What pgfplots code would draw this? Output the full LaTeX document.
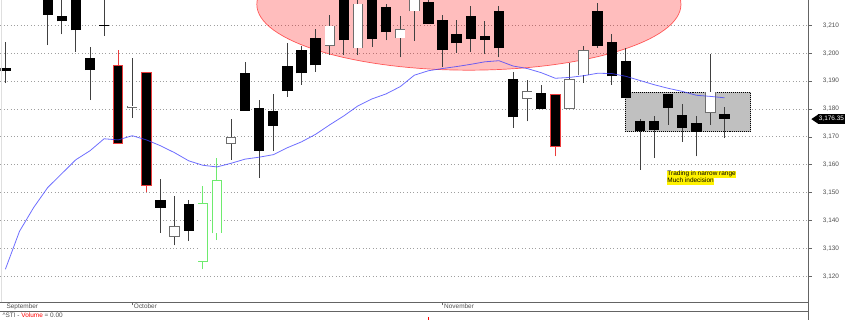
\documentclass[border=0pt]{standalone}
\usepackage{pgfplots}
\pgfplotsset{compat=1.18}
\usepackage{pgfplotstable}
\usepackage{fontspec}
\setmainfont{Liberation Sans}
\definecolor{wick}{RGB}{64,64,64}
\definecolor{outl}{RGB}{110,110,110}
\definecolor{redc}{RGB}{235,60,60}
\definecolor{grnc}{RGB}{110,235,110}
\definecolor{macol}{RGB}{60,60,255}
\definecolor{silver}{RGB}{192,192,192}
\definecolor{axcol}{RGB}{100,100,100}
\definecolor{lbl}{RGB}{80,80,80}

% black candles: index, open, high, low, close
\pgfplotstableread{
i o h l c
0 3194.6 3203.9 3189.3 3193.6
3 3221.0 3223.0 3202.9 3213.8
4 3213.5 3220.0 3206.7 3211.4
5 3221.0 3222.0 3200.5 3208.2
6 3198.2 3202.3 3183.2 3193.9
7 3210.15 3222.0 3206.2 3209.85
11 3147.3 3154.9 3135.6 3144.5
13 3146.0 3147.5 3132.6 3136.4
17 3193.0 3196.9 3179.4 3179.4
18 3180.5 3183.2 3155.3 3165.0
19 3179.3 3185.3 3165.0 3173.9
20 3195.5 3203.5 3184.4 3186.4
21 3201.1 3202.5 3188.6 3192.8
22 3205.6 3208.5 3193.3 3195.6
24 3221.0 3223.0 3199.3 3204.6
26 3221.0 3223.0 3202.3 3205.0
27 3216.5 3217.7 3204.6 3207.5
30 3218.3 3220.0 3210.4 3210.4
31 3211.8 3213.6 3195.1 3201.1
32 3206.9 3212.0 3200.1 3203.5
33 3213.5 3216.8 3200.5 3205.1
34 3206.2 3211.5 3199.6 3204.9
35 3215.0 3216.9 3198.5 3201.7
36 3190.7 3193.3 3173.3 3177.0
38 3185.8 3188.6 3180.0 3180.0
42 3215.0 3218.1 3202.0 3202.6
43 3203.9 3206.7 3188.6 3191.7
44 3197.1 3201.7 3183.8 3183.8
45 3175.5 3176.4 3158.2 3172.1
46 3175.8 3177.5 3162.4 3172.5
47 3185.4 3185.4 3174.3 3180.5
48 3177.9 3181.8 3168.3 3173.3
49 3174.9 3177.5 3163.0 3171.9
51 3178.1 3180.8 3169.5 3176.35
}\blk

% white candles
\pgfplotstableread{
i o h l c
9 3180.3 3198.1 3176.7 3181.2
12 3134.2 3148.7 3131.1 3138.0
16 3167.6 3176.4 3161.8 3169.8
23 3202.6 3213.6 3199.3 3209.9
25 3201.7 3222.0 3199.3 3217.8
28 3205.3 3213.2 3198.5 3208.5
29 3215.0 3222.0 3204.4 3221.5
37 3183.7 3190.4 3175.5 3186.5
40 3180.0 3196.3 3180.0 3190.8
41 3192.0 3202.5 3189.4 3201.1
50 3178.5 3199.6 3174.3 3186.2
}\wht

% black candles with red outline (wicks)
\pgfplotstableread{
i o h l c
8 3195.5 3201.3 3167.5 3167.5
10 3193.0 3193.0 3150.1 3152.5
39 3185.1 3185.1 3163.0 3166.5
}\redk

% white candles with green outline
\pgfplotstableread{
i o h l c
14 3125.1 3152.3 3122.5 3146.3
15 3135.4 3162.4 3133.0 3154.5
}\grnw

% moving average
\pgfplotstableread{
i v
0 3122.5
1 3136.1
2 3144.6
3 3151.8
4 3156.8
5 3161.8
6 3165.0
7 3169.3
8 3168.9
9 3170.4
10 3168.9
11 3166.8
12 3164.3
13 3161.4
14 3159.8
15 3159.2
16 3160.5
17 3162.0
18 3162.7
19 3163.6
20 3166.1
21 3168.2
22 3170.9
23 3174.3
24 3177.5
25 3181.1
26 3183.6
27 3185.4
28 3188.0
29 3192.1
30 3193.7
31 3194.5
32 3195.2
33 3196.0
34 3196.9
35 3197.3
36 3195.4
37 3194.5
38 3193.0
39 3191.0
40 3191.3
41 3191.9
42 3192.8
43 3192.7
44 3191.7
45 3190.2
46 3188.7
47 3187.4
48 3186.3
49 3184.9
50 3184.5
51 3184.0
}\ma

\pgfplotsset{
  wickstyle/.style={draw=none, mark=none, forget plot,
    error bars/.cd, y dir=plus, y explicit, error mark=none,
    error bar style={line width=0.9bp, draw=#1}},
  bodystyle/.style 2 args={draw=none, mark=none, forget plot,
    error bars/.cd, y dir=plus, y explicit, error mark=none,
    error bar style={line width=#2, draw=#1}},
  redbody/.style={fill=black, draw=redc, line width=0.9bp, mark=none, forget plot},
}
\newcommand{\sm}{\fontsize{6.5}{7.5}\selectfont}

\begin{document}
\begin{tikzpicture}
\begin{axis}[
  name=ax, at={(0,0)}, anchor=south west,
  width=811.7bp, height=303.3bp, scale only axis,
  xmin=-0.353, xmax=56.97, ymin=3110.6, ymax=3218.93,
  axis x line*=bottom, axis y line*=right,
  axis line style={-, draw=axcol, line width=0.8bp},
  xtick={9,31}, xticklabels={October,November},
  ytick={3120,3130,...,3210},
  tick align=outside, major tick length=3bp,
  tick style={draw=axcol, line width=0.6bp},
  ymajorgrids,
  grid style={draw=gray!75, line width=0.7bp, dash pattern=on 0.8bp off 2.6bp},
  scaled y ticks=false,
  /pgf/number format/assume math mode=true,
  /pgf/number format/1000 sep={,},
  ticklabel style={font=\sm, text=lbl},
  yticklabel style={anchor=west, inner sep=0pt, xshift=11bp},
  xticklabel style={anchor=north west, inner sep=0pt, xshift=1.5bp, yshift=2.3bp},
]
% highlighted zone (ellipse)
\fill[red, fill opacity=0.26] (axis cs:32.87,3217.5) ellipse [x radius=15.04, y radius=23.6];
\draw[red, draw opacity=0.6, line width=0.7bp] (axis cs:32.87,3217.5) ellipse [x radius=15.04, y radius=23.6];
% narrow range box
\draw[black, line width=1bp, dash pattern=on 1bp off 1bp, fill=silver] (axis cs:43.95,3171.9) rectangle (axis cs:52.85,3185.96);

% wicks
\addplot[wickstyle=wick] table[x=i, y=l, y error expr=\thisrow{h}-\thisrow{l}] {\blk};
\addplot[wickstyle=wick] table[x=i, y=l, y error expr=\thisrow{h}-\thisrow{l}] {\wht};
\addplot[wickstyle=redc] table[x=i, y=l, y error expr=\thisrow{h}-\thisrow{l}] {\redk};
\addplot[wickstyle=grnc] table[x=i, y=l, y error expr=\thisrow{h}-\thisrow{l}] {\grnw};

% bodies
\addplot[bodystyle={black}{10.4bp}] table[x=i, y expr={min(\thisrow{o},\thisrow{c})}, y error expr={abs(\thisrow{c}-\thisrow{o})}] {\blk};
\addplot[bodystyle={outl}{10.4bp}] table[x=i, y expr={min(\thisrow{o},\thisrow{c})}, y error expr={abs(\thisrow{c}-\thisrow{o})}] {\wht};
\addplot[bodystyle={white}{8.8bp}] table[x=i, y expr={min(\thisrow{o},\thisrow{c})+0.27}, y error expr={abs(\thisrow{c}-\thisrow{o})-0.54}] {\wht};
% red-outlined black bodies (open 3195.5/close 3167.5, 3193.0/3152.5, 3185.1/3166.5)
\addplot[redbody] coordinates {(7.665,3195.5) (8.335,3195.5) (8.335,3167.5) (7.665,3167.5)} -- cycle;
\addplot[redbody] coordinates {(9.665,3193.0) (10.335,3193.0) (10.335,3152.5) (9.665,3152.5)} -- cycle;
\addplot[redbody] coordinates {(38.665,3185.1) (39.335,3185.1) (39.335,3166.5) (38.665,3166.5)} -- cycle;
\addplot[bodystyle={grnc}{10.4bp}] table[x=i, y expr={min(\thisrow{o},\thisrow{c})}, y error expr={abs(\thisrow{c}-\thisrow{o})}] {\grnw};
\addplot[bodystyle={white}{8.8bp}] table[x=i, y expr={min(\thisrow{o},\thisrow{c})+0.27}, y error expr={abs(\thisrow{c}-\thisrow{o})-0.54}] {\grnw};

% moving average
\addplot[macol, line width=0.8bp, draw opacity=0.75, mark=none] table[x=i, y=v] {\ma};

\node[anchor=west, fill=yellow, inner sep=0.4bp, text height=4.8bp, text depth=1.4bp, font=\sm] at (axis cs:46.91,3156.6) {Trading in narrow range};
\node[anchor=west, fill=yellow, inner sep=0.4bp, text height=4.8bp, text depth=1.4bp, font=\sm] at (axis cs:46.91,3154.1) {Much indecision};

\coordinate (pt) at (axis cs:56.97,3176.35);
\coordinate (vol) at (axis cs:30,3110.6);
\end{axis}
% frame pieces outside the plot area
\draw[axcol, line width=0.8bp] (ax.south east) -- ++(0,-17.7bp);
\draw[axcol, line width=0.8bp] ([yshift=-9bp]ax.south west) -- ([yshift=-9bp]ax.south east);
\draw[gray!25, line width=0.8bp] ([xshift=0.8bp]ax.south west) -- ([xshift=0.8bp]ax.north west);
\node[anchor=north west, inner sep=0pt, font=\sm, text=lbl] at ([xshift=6bp, yshift=-0.7bp]ax.south west) {September};
\node[anchor=north west, inner sep=0pt, font=\sm, text=lbl] at ([xshift=2bp, yshift=-10.7bp]ax.south west) {\textasciicircum STI - \textcolor{red}{Volume} = 0.00};
\draw[red, line width=0.9bp] ([yshift=-15bp]vol) -- ([yshift=-17.7bp]vol);
% last price tag
\fill[black] ([xshift=2.6bp]pt) -- ++(6.6bp,4.5bp) -- ++(0,-9bp) -- cycle;
\node[anchor=west, fill=black, text=white, inner xsep=1bp, inner ysep=2.2bp, font=\sm] at ([xshift=9bp]pt) {3,176.35};
\path[use as bounding box] ([yshift=-17.7bp]ax.south west) rectangle ([xshift=33.3bp]ax.north east);
\end{tikzpicture}
\end{document}
